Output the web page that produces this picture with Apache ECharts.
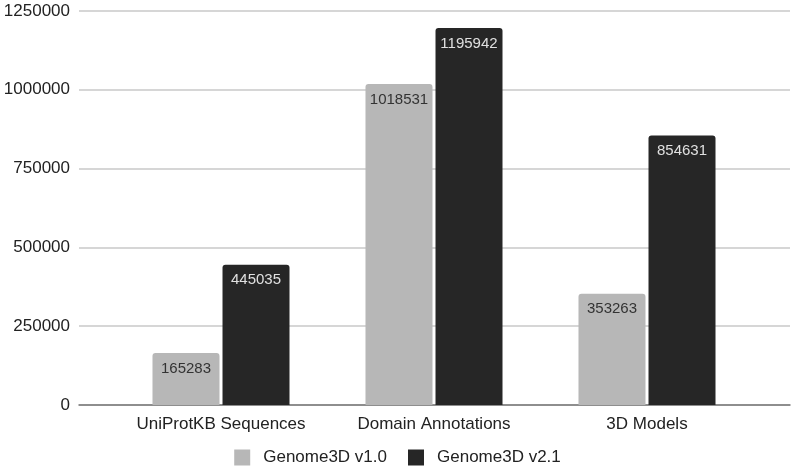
<!DOCTYPE html>
<html>
<head>
<meta charset="utf-8">
<script src="https://cdn.jsdelivr.net/npm/echarts@6/dist/echarts.min.js"></script>
<style>html,body{margin:0;padding:0;background:#fff}#c{width:795px;height:471px}</style>
</head>
<body>
<div id="c"></div>
<script>
const categories = ['UniProtKB Sequences', 'Domain Annotations', '3D Models'];
const v10 = [165283, 1018531, 353263];
const v21 = [445035, 1195942, 854631];
const seriesNames = ['Genome3D v1.0', 'Genome3D v2.1'];
const yMin = 0, yMax = 1250000, yStep = 250000;

const FONT = '"Liberation Sans", Arial, sans-serif';
const chart = echarts.init(document.getElementById('c'), null, {renderer: 'canvas'});
chart.setOption({
  animation: false,
  textStyle: {fontFamily: FONT},
  grid: [
    {left: 114.5, right: 41.5, top: 11, bottom: 66},
    {left: 79, right: 5, top: 11, bottom: 66}
  ],
  xAxis: [
    {gridIndex: 0, type: 'category', data: categories,
     axisLine: {show: false}, axisTick: {show: false},
     axisLabel: {fontSize: 17, color: '#222', margin: 11, fontFamily: FONT,
                 interval: 0, hideOverlap: false}},
    {gridIndex: 1, type: 'value', min: 0, max: 1,
     axisLine: {show: true, lineStyle: {color: '#777', width: 1.5}},
     axisTick: {show: false}, axisLabel: {show: false}, splitLine: {show: false}}
  ],
  yAxis: [
    {gridIndex: 0, type: 'value', min: yMin, max: yMax, interval: yStep, show: false},
    {gridIndex: 1, type: 'value', min: yMin, max: yMax, interval: yStep,
     axisLine: {show: false}, axisTick: {show: false},
     axisLabel: {fontSize: 17, color: '#222', margin: 9, fontFamily: FONT,
                 formatter: v => String(v)},
     splitLine: {lineStyle: {color: '#c8c8c8', width: 1.5}}}
  ],
  legend: {
    bottom: 0, left: 'center', icon: 'rect', itemWidth: 16, itemHeight: 16, itemGap: 21,
    textStyle: {fontSize: 17, color: '#222', fontFamily: FONT, padding: [0, 0, 0, 8]},
    data: seriesNames
  },
  series: [
    {name: seriesNames[0], type: 'bar', xAxisIndex: 0, yAxisIndex: 0, data: v10,
     barWidth: 67, barGap: '4.5%',
     itemStyle: {color: '#b7b7b7', borderRadius: [3, 3, 0, 0]},
     label: {show: true, position: 'insideTop', distance: 8, fontSize: 15, color: '#333', fontFamily: FONT}},
    {name: seriesNames[1], type: 'bar', xAxisIndex: 0, yAxisIndex: 0, data: v21,
     barWidth: 67, barGap: '4.5%',
     itemStyle: {color: '#262626', borderRadius: [3, 3, 0, 0]},
     label: {show: true, position: 'insideTop', distance: 8, fontSize: 15, color: '#e0e0e0', fontFamily: FONT}}
  ]
});
</script>
</body>
</html>
